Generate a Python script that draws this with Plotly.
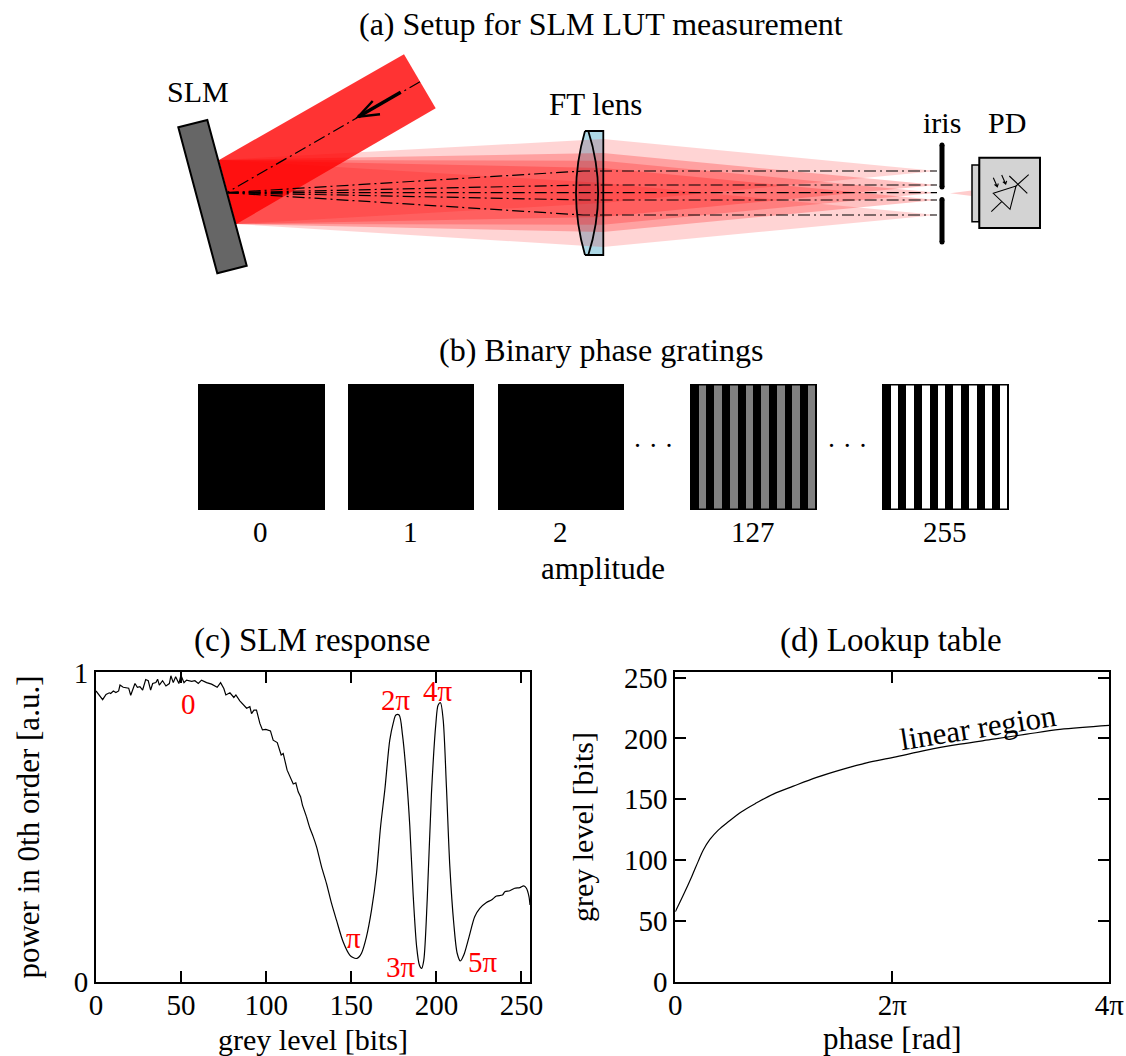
import plotly.graph_objects as go

W, H = 1126, 1056
FONT = "Liberation Serif"
FS = 30
TITLE_FS = 32
TICK_FS = 29

# ---------- data: panel (c) SLM response ----------
grey_c = [0,2,3.9,5.9,7.8,8.6,10.2,11.7,13.3,14.1,16,19.2,20.4,22.9,24.3,25.8,27.4,29.2,30.7,32.1,33.3,35.2,36.2,37.2,39.1,41.1,43.1,44,45.4,46.8,48.7,49.9,51.7,53.2,56.2,58.1,60.1,62,65,67.9,71.2,73.2,75.1,76.3,78.7,81,82.2,84.5,88.5,90.4,91.4,92.8,94.3,96.3,97.8,99.8,102.5,104.1,106.5,108.8,110,112.3,115.9,117.4,118.8,120.2,121.3,123.7,
          125.7,127.6,129.6,132.5,135.4,138.4,141.3,145.2,149.1,151,153,154.5,156,158.9,161.9,164.8,167.2,169.7,172.6,174.6,176.2,178.1,180.1,182.4,184.4,186.3,188.4,190,191.3,192.6,194.6,197.1,199.7,201,202.4,204,205.9,207.9,210.2,212.2,214.1,216.1,219.2,222.5,225.5,229.4,232.3,235.3,238.8,240.2,243.1,246,249,251.3,252.9,254.4,255]
power_c = [.940,.927,.912,.929,.934,.932,.940,.935,.940,.959,.952,.949,.926,.964,.952,.954,.943,.977,.973,.943,.964,.967,.978,.959,.973,.956,.964,.989,.967,.986,.964,.991,.967,.975,.971,.973,.964,.975,.967,.962,.952,.967,.948,.927,.934,.919,.927,.908,.884,.889,.867,.878,.878,.835,.814,.816,.811,.781,.773,.733,.738,.684,.639,.643,.614,.598,.571,.533,
           .496,.469,.436,.372,.318,.253,.199,.129,.086,.078,.075,.080,.092,.145,.232,.350,.501,.620,.781,.835,.862,.862,.797,.663,.501,.286,.113,.054,.043,.070,.264,.609,.835,.894,.902,.846,.630,.372,.189,.092,.067,.086,.145,.210,.237,.256,.264,.277,.280,.291,.294,.302,.304,.310,.302,.275,.248]
grey_ticks_c = [0,50,100,150,200,250]
power_ticks = [0,1]
phase_labels = [("0",188,704),("2π",396,700),("4π",438,691),("π",353,938),("3π",401,967),("5π",483,962)]
NOISY_END = 68  # the low-grey part of the curve is measurement noise, the rest runs smoothly

# ---------- data: panel (d) lookup table ----------
phase_d = [0,.074,.151,.212,.258,.319,.396,.488,.611,.750,.903,1.088,1.303,1.548,1.763,2.009,2.316,2.624,2.931,3.238,3.545,4]
grey_d = [57.5,71.2,86.3,99.1,108.2,116.9,124.6,131.4,139.7,147,154.2,160.7,167.9,174.7,179.9,184.3,190.3,195.2,199.3,203.4,207.3,210.6]
phase_ticks = [0,2,4]
phase_ticktext = ["0","2π","4π"]
grey_ticks_d = [0,50,100,150,200,250]

# ---------- schematic (a): diffraction orders ----------
order_y = [171,185,192.7,200,215]
order_alpha = [.17,.24,.22,.24,.17]
# ---------- schematic (b): gratings ----------
grating_labels = ["0","1","2","127","255"]
grating_left = [198,348,498,690,882]
grating_right = [325,474,624,817,1009]
bars_127 = [(699,706),(714,722),(730,738),(746,753),(761,769),(777,785),(792,800),(808,815)]
bars_255 = [(891,898),(906,914),(922,930),(938,945),(953,961),(969,977),(985,992),(1000,1007)]

# ---------- figure ----------
fig = go.Figure()
fig.add_trace(go.Scatter(x=grey_c[:NOISY_END], y=power_c[:NOISY_END], mode="lines", line=dict(color="black", width=1.2),
                         xaxis="x", yaxis="y", showlegend=False, hoverinfo="skip"))
fig.add_trace(go.Scatter(x=grey_c[NOISY_END-1:], y=power_c[NOISY_END-1:], mode="lines",
                         line=dict(color="black", width=1.2, shape="spline", smoothing=0.8),
                         xaxis="x", yaxis="y", showlegend=False, hoverinfo="skip"))
fig.add_trace(go.Scatter(x=phase_d, y=grey_d, mode="lines", line=dict(color="black", width=1.2, shape="spline", smoothing=1),
                         xaxis="x2", yaxis="y2", showlegend=False, hoverinfo="skip"))
fig.add_trace(go.Scatter(x=[0, W], y=[0, H], mode="markers", marker=dict(opacity=0, size=1),
                         xaxis="x3", yaxis="y3", showlegend=False, hoverinfo="skip"))

shapes = []
def sh(path, fill=None, lw=0, color="black", dash=None):
    d = dict(type="path", path=path, xref="x3", yref="y3", layer="above",
             line=dict(color=color, width=lw))
    if dash: d["line"]["dash"] = dash
    if lw == 0: d["line"] = dict(width=0)
    if fill: d["fillcolor"] = fill
    shapes.append(d)

DD = "12px,4px,2px,4px"
# lens fill below the beams
sh("M585,131 L603.3,131 L603.3,255 L585,255 Q567,193 585,131 Z", fill="#add8e6")
# diffracted beams
for yc, a in zip(order_y, order_alpha):
    sh(f"M219,160 L603,{yc-32} L937,{yc} L603,{yc+32} L236,224 Z", fill=f"rgba(255,0,0,{a})")
sh("M950,193.2 L971.7,190.5 L971.7,196 Z", fill="rgba(255,0,0,0.2)")
# incident beam
sh("M404,54.3 L435.7,108.3 L236,224.3 L219,160 Z", fill="rgba(255,0,0,0.8)")
# SLM
sh("M178.3,127.3 L207.3,120 L246.7,265.7 L217.3,273.3 Z", fill="#666666", lw=2)
# centre lines
sh("M420,81.7 L226.7,192.7", lw=1.2, dash=DD)
for yc in order_y:
    sh(f"M226.7,192.7 L583,{yc} L937,{yc}", lw=1.2, dash=DD)
# arrow
sh("M400.7,92.3 L358.3,116.7", lw=3.5)
sh("M372.7,101 L358.3,116.7 L380,114.3", lw=2.4)
# lens outline
sh("M585,131 Q567,193 585,255", lw=1.8)
sh("M588.3,131 Q608,193 588.3,255", lw=1.8)
sh("M585,131 L603.3,131 L603.3,255 L585,255", lw=1.8)
# iris
for y0_, y1_ in [(145, 187), (199.5, 242)]:
    sh(f"M942,{y0_} L942,{y1_}", lw=5)
    shapes.append(dict(type="circle", xref="x3", yref="y3", layer="above", x0=939.5, x1=944.5, y0=y0_-2.5, y1=y0_+2.5, fillcolor="black", line=dict(width=0)))
    shapes.append(dict(type="circle", xref="x3", yref="y3", layer="above", x0=939.5, x1=944.5, y0=y1_-2.5, y1=y1_+2.5, fillcolor="black", line=dict(width=0)))
# photodiode
sh("M972,165 L979.3,165 L979.3,221.7 L972,221.7 Z", fill="#d3d3d3", lw=1.5)
sh("M979.3,157.7 L1040,157.7 L1040,228 L979.3,228 Z", fill="#d3d3d3", lw=2)
sh("M993.3,193.3 L1016,186 L1010,209.3 Z", lw=1.1)
sh("M1009.3,176 L1027.3,193.3", lw=1.1)
sh("M1016,186 L1028.7,174.7", lw=1.1)
sh("M991.3,211.7 L1001.7,201.7", lw=1.1)
sh("M993.3,177.7 L997.3,186.7 M994.5,184.5 L997.3,186.7 L998.3,183.5", lw=1.1)
sh("M1001.7,175 L1005.7,184 M1002.9,181.8 L1005.7,184 L1006.7,180.8", lw=1.1)

# gratings
for l, r in zip(grating_left, grating_right):
    sh(f"M{l},384 L{r},384 L{r},510 L{l},510 Z", fill="black")
for a, b in bars_127:
    sh(f"M{a},385.5 L{b},385.5 L{b},508.5 L{a},508.5 Z", fill="#808080")
for a, b in bars_255:
    sh(f"M{a},385.5 L{b},385.5 L{b},508.5 L{a},508.5 Z", fill="white")

def ann(text, x, y, color="black", angle=0, size=FS):
    return dict(text=text, x=x, y=y, xref="x3", yref="y3", showarrow=False, xanchor="center", yanchor="middle",
                textangle=angle, font=dict(family=FONT, size=size, color=color))

annotations = [
    ann("(a) Setup for SLM LUT measurement", 601, 24, size=TITLE_FS),
    ann("SLM", 198, 91), ann("FT lens", 595, 104, size=31), ann("iris", 942, 122), ann("PD", 1007, 122),
    ann("(b) Binary phase gratings", 601, 350, size=TITLE_FS),
    ann("amplitude", 603, 568, size=31),
    ann("· · ·", 653, 446, size=27), ann("· · ·", 846.5, 446, size=27),
    ann("(c) SLM response", 312, 640, size=33),
    ann("(d) Lookup table", 891, 640, size=33),
    ann("linear region", 978, 727, angle=-9, size=31),
]
for lab, l, r in zip(grating_labels, grating_left, grating_right):
    annotations.append(ann(lab, (l + r) / 2 - 1, 532, size=TICK_FS))
for lab, x, y in phase_labels:
    annotations.append(ann(lab, x, y, color="#ff0000", size=TICK_FS))

axis_common = dict(showline=True, linecolor="black", linewidth=2, mirror="allticks", ticks="inside",
                   ticklen=11, tickwidth=2, tickcolor="black", showgrid=False, zeroline=False,
                   tickfont=dict(family=FONT, size=TICK_FS, color="black"), automargin=False,
                   title_font=dict(family=FONT, size=FS, color="black"), fixedrange=True)
y0 = 1 - 981.7 / H
y1 = 1 - 672.4 / H

fig.update_layout(
    width=W, height=H, margin=dict(l=0, r=0, t=0, b=0), paper_bgcolor="white", plot_bgcolor="rgba(0,0,0,0)",
    showlegend=False, shapes=shapes, annotations=annotations,
    xaxis=dict(axis_common, domain=[96/W, 530/W], range=[0, 255], tickvals=grey_ticks_c, anchor="y", ticklabelstandoff=-4,
               title=dict(text="grey level [bits]", standoff=22)),
    yaxis=dict(axis_common, domain=[y0, y1], range=[0, 1], tickvals=power_ticks, ticklen=0, anchor="x",
               title=dict(text="power in 0th order [a.u.]", standoff=25, font=dict(family=FONT, size=31, color="black"))),
    xaxis2=dict(axis_common, domain=[675.3/W, 1109.3/W], range=[0, 4], tickvals=phase_ticks, ticktext=phase_ticktext, anchor="y2", ticklabelstandoff=-4,
                title=dict(text="phase [rad]", standoff=22, font=dict(family=FONT, size=31, color="black"))),
    yaxis2=dict(axis_common, domain=[y0, y1], range=[0, 254.2], tickvals=grey_ticks_d, anchor="x2",
                title=dict(text="grey level [bits]", standoff=21)),
    xaxis3=dict(domain=[0, 1], range=[0, W], visible=False, fixedrange=True, anchor="y3"),
    yaxis3=dict(domain=[0, 1], range=[H, 0], visible=False, fixedrange=True, anchor="x3"),
)
fig.write_html("out.html", config=dict(displayModeBar=False),
               post_script="document.body.style.margin='0';document.documentElement.style.overflow='hidden';")
